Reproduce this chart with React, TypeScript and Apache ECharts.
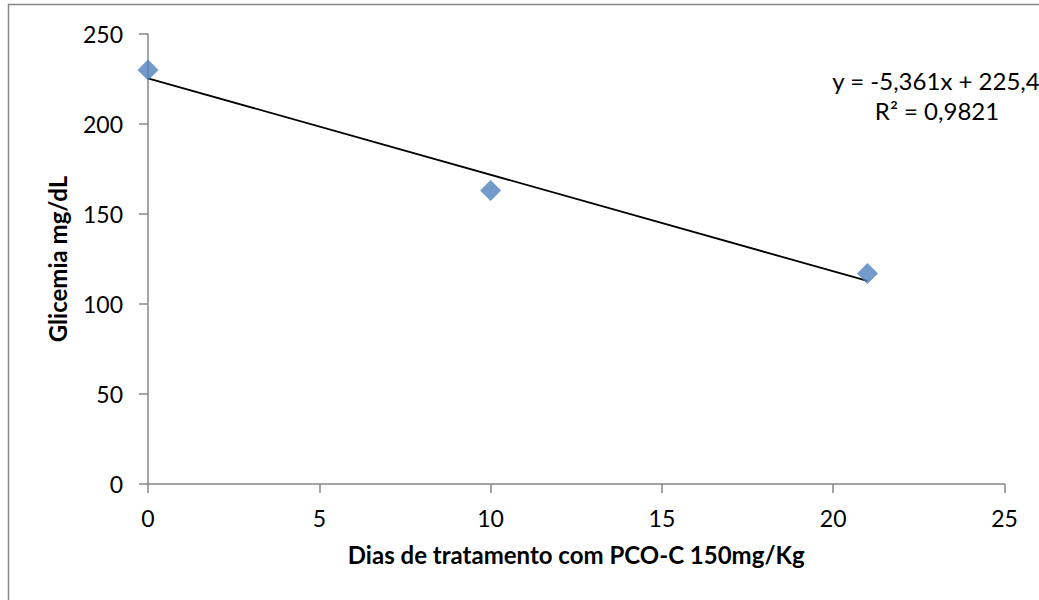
import React, { useEffect, useRef } from "react";
import * as echarts from "echarts";

const days = [0, 10, 21];
const glicemia = [230, 163, 117];
const trendSlope = -5.361;
const trendIntercept = 225.4;
const trendRange = [0, 21];
const equationLines = ["y = -5,361x + 225,4", "R² = 0,9821"];
const xTitle = "Dias de tratamento com PCO-C 150mg/Kg";
const yTitle = "Glicemia mg/dL";

const FONT = "Lato";
const AXIS_COLOR = "#868686";

export default function App() {
  const ref = useRef<HTMLDivElement>(null);
  useEffect(() => {
    if (!ref.current) return;
    const chart = echarts.init(ref.current, undefined, { renderer: "svg" });
    const points = days.map((d, i) => [d, glicemia[i]]);
    const trend = trendRange.map((x) => [x, trendSlope * x + trendIntercept]);
    chart.setOption({
      animation: false,
      backgroundColor: "#ffffff",
      grid: { left: 148, right: 34.5, top: 34, bottom: 116, containLabel: false },
      xAxis: {
        type: "value",
        min: 0,
        max: 25,
        interval: 5,
        name: xTitle,
        nameLocation: "middle",
        nameGap: 58,
        nameTextStyle: { fontFamily: FONT, fontSize: 24, fontWeight: "bold", color: "#000" },
        axisLine: { show: true, onZero: false, lineStyle: { color: AXIS_COLOR, width: 1.5 } },
        axisTick: { show: true, inside: false, length: 9, lineStyle: { color: AXIS_COLOR, width: 1.5 } },
        axisLabel: { fontFamily: FONT, fontSize: 23, color: "#000", margin: 22 },
        splitLine: { show: false },
      },
      yAxis: {
        type: "value",
        min: 0,
        max: 250,
        interval: 50,
        name: yTitle,
        nameLocation: "middle",
        nameGap: 79,
        nameRotate: 90,
        nameTextStyle: { fontFamily: FONT, fontSize: 24, fontWeight: "bold", color: "#000" },
        axisLine: { show: true, lineStyle: { color: AXIS_COLOR, width: 1.5 } },
        axisTick: { show: true, inside: false, length: 9, lineStyle: { color: AXIS_COLOR, width: 1.5 } },
        axisLabel: { fontFamily: FONT, fontSize: 23, color: "#000", margin: 25 },
        splitLine: { show: false },
      },
      series: [
        {
          type: "line",
          data: trend,
          showSymbol: false,
          symbol: "none",
          lineStyle: { color: "#000", width: 1.8 },
          z: 2,
        },
        {
          type: "scatter",
          data: points,
          symbol: "diamond",
          symbolSize: 21,
          itemStyle: { color: "#4F81BD" },
          z: 3,
        },
      ],
      graphic: [
        {
          type: "rect",
          shape: { x: 8.5, y: 4.5, width: 1200, height: 800 },
          style: { fill: "none", stroke: AXIS_COLOR, lineWidth: 1.5 },
          silent: true,
        },
        {
          type: "text",
          x: 936,
          y: 80,
          style: {
            text: equationLines[0],
            fontFamily: FONT,
            fontSize: 24,
            fill: "#000",
            align: "center",
            verticalAlign: "middle",
          },
        },
        {
          type: "text",
          x: 937,
          y: 110,
          style: {
            text: equationLines[1],
            fontFamily: FONT,
            fontSize: 24,
            fill: "#000",
            align: "center",
            verticalAlign: "middle",
          },
        },
      ],
    });
    return () => chart.dispose();
  }, []);
  return (
    <div
      ref={ref}
      style={{ position: "fixed", left: 0, top: 0, width: 1039, height: 600 }}
    />
  );
}
